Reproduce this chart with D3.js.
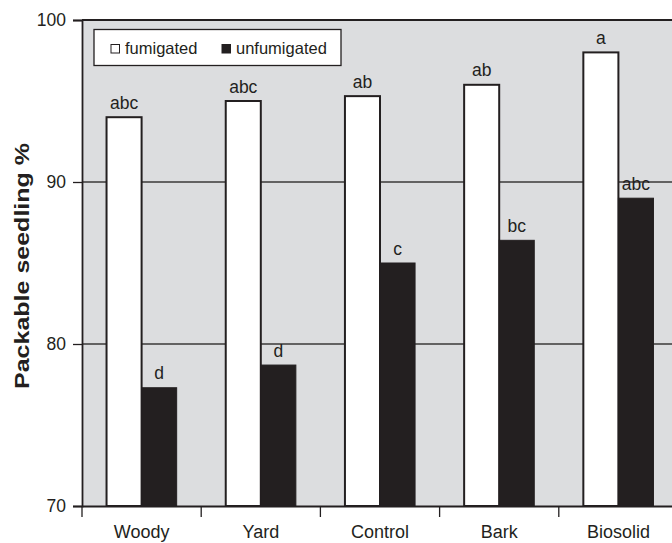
<!DOCTYPE html>
<html>
<head>
<meta charset="utf-8">
<script src="https://cdn.jsdelivr.net/npm/d3@7/dist/d3.min.js"></script>
<style>
  html, body { margin: 0; padding: 0; background: #ffffff; }
  svg { display: block; font-family: "Liberation Sans", Arial, Helvetica, sans-serif; }
</style>
</head>
<body>
<svg id="chart" width="672" height="543"></svg>
<script>
// Packable seedling percentage by soil amendment, fumigated vs unfumigated
const categories = ["Woody", "Yard", "Control", "Bark", "Biosolid"];
const seriesNames = ["fumigated", "unfumigated"];
const fumigated = [94.0, 95.0, 95.3, 96.0, 98.0];
const unfumigated = [77.3, 78.7, 85.0, 86.4, 89.0];
const fumigatedLetters = ["abc", "abc", "ab", "ab", "a"];
const unfumigatedLetters = ["d", "d", "c", "bc", "abc"];
const yTicks = [70, 80, 90, 100];
const yLabel = "Packable seedling %";

const ink = "#231f20";
const panel = "#dcdddf";

const svg = d3.select("#chart");
const plot = { left: 82, right: 678, top: 20, bottom: 506 };

const x = d3.scaleBand().domain(categories).range([plot.left, plot.right]).paddingInner(0).paddingOuter(0);
const xSub = d3.scaleBand().domain(seriesNames).range([0, x.bandwidth()]).paddingInner(0).paddingOuter(0.7);
const y = d3.scaleLinear().domain([70, 100]).range([plot.bottom, plot.top]);

// panel background
svg.append("rect")
  .attr("x", plot.left).attr("y", plot.top)
  .attr("width", plot.right - plot.left).attr("height", plot.bottom - plot.top)
  .attr("fill", panel);

// horizontal gridlines
svg.append("g").selectAll("line")
  .data([80, 90])
  .join("line")
  .attr("x1", plot.left).attr("x2", plot.right)
  .attr("y1", d => y(d)).attr("y2", d => y(d))
  .attr("stroke", "#3b3838").attr("stroke-width", 1.3);

// top border of panel
svg.append("line")
  .attr("x1", plot.left).attr("x2", plot.right)
  .attr("y1", y(100)).attr("y2", y(100))
  .attr("stroke", ink).attr("stroke-width", 2);

const rows = categories.map((c, i) => ({
  cat: c,
  vals: [
    { s: "fumigated", v: fumigated[i], label: fumigatedLetters[i] },
    { s: "unfumigated", v: unfumigated[i], label: unfumigatedLetters[i] }
  ]
}));

const groups = svg.append("g").selectAll("g")
  .data(rows)
  .join("g")
  .attr("transform", d => `translate(${x(d.cat)},0)`);

// bars
groups.selectAll("rect")
  .data(d => d.vals)
  .join("rect")
  .attr("x", d => xSub(d.s))
  .attr("y", d => y(d.v))
  .attr("width", xSub.bandwidth())
  .attr("height", d => y(70) - y(d.v))
  .attr("fill", d => d.s === "fumigated" ? "#ffffff" : ink)
  .attr("stroke", ink)
  .attr("stroke-width", d => d.s === "fumigated" ? 2 : 1);

// significance letters above bars
groups.selectAll("text")
  .data(d => d.vals)
  .join("text")
  .attr("x", d => xSub(d.s) + xSub.bandwidth() / 2)
  .attr("y", d => y(d.v) - 8.5)
  .attr("text-anchor", "middle")
  .attr("font-size", 17.5)
  .attr("fill", ink)
  .text(d => d.label);

// y axis
const yAxis = d3.axisLeft(y).tickValues(yTicks).tickSize(9).tickPadding(7).tickFormat(d3.format("d"));
const gy = svg.append("g").attr("transform", `translate(${plot.left},0)`).call(yAxis);
gy.select(".domain").attr("stroke", ink).attr("stroke-width", 1.8);
gy.selectAll(".tick line").attr("stroke", ink).attr("stroke-width", 1.3);
gy.selectAll(".tick text")
  .attr("font-size", 17.5)
  .attr("font-family", "Liberation Sans, Arial, sans-serif")
  .attr("fill", ink);

// x axis
const xAxis = d3.axisBottom(x).tickSize(0).tickPadding(0);
const gx = svg.append("g").attr("transform", `translate(0,${plot.bottom})`).call(xAxis);
gx.select(".domain").attr("stroke", ink).attr("stroke-width", 1.8);
gx.selectAll(".tick text")
  .attr("y", 32)
  .attr("dy", 0)
  .attr("font-size", 18)
  .attr("font-family", "Liberation Sans, Arial, sans-serif")
  .attr("fill", ink);
// category boundary ticks
gx.append("g").selectAll("line")
  .data(categories.concat(["end"]))
  .join("line")
  .attr("x1", (d, i) => i < categories.length ? x(d) : plot.right)
  .attr("x2", (d, i) => i < categories.length ? x(d) : plot.right)
  .attr("y1", 0).attr("y2", 11)
  .attr("stroke", ink).attr("stroke-width", 1.3);

// y axis title
svg.append("text")
  .attr("transform", `translate(29,266) rotate(-90)`)
  .attr("text-anchor", "middle")
  .attr("font-size", 21)
  .attr("font-weight", "bold")
  .attr("textLength", 246)
  .attr("lengthAdjust", "spacingAndGlyphs")
  .attr("fill", ink)
  .text(yLabel);

// legend
const legend = svg.append("g");
legend.append("rect")
  .attr("x", 94).attr("y", 29.5).attr("width", 247).attr("height", 36)
  .attr("fill", "#ffffff").attr("stroke", ink).attr("stroke-width", 1.3);
const legendItems = [
  { name: seriesNames[0], x: 111, fill: "#ffffff" },
  { name: seriesNames[1], x: 222, fill: ink }
];
const li = legend.selectAll("g.item")
  .data(legendItems)
  .join("g")
  .attr("class", "item");
li.append("rect")
  .attr("x", d => d.x).attr("y", 44.5)
  .attr("width", 8.5).attr("height", 8.5)
  .attr("fill", d => d.fill).attr("stroke", ink).attr("stroke-width", 1);
li.append("text")
  .attr("x", d => d.x + 14).attr("y", 54)
  .attr("font-size", 16.5)
  .attr("fill", ink)
  .text(d => d.name);
</script>
</body>
</html>
